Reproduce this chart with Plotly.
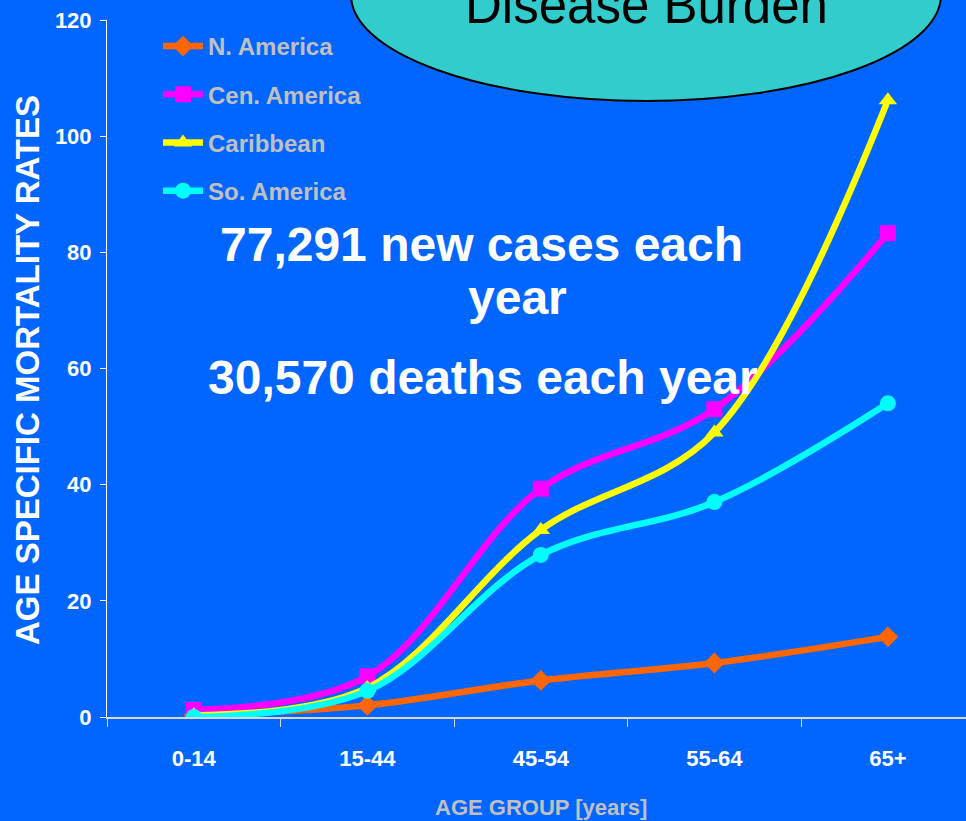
import plotly.graph_objects as go

W, H = 966, 821
L, R, T, B = 107, 0, 20, 104  # plot area in pixels

age_groups = ["0-14", "15-44", "45-54", "55-64", "65+"]
n_america = [0.3, 2.0, 6.3, 9.3, 13.8]
cen_america = [1.2, 7.0, 39.3, 53.0, 83.3]
caribbean = [0.3, 5.0, 32.2, 49.0, 106.2]
so_america = [0.0, 4.5, 27.9, 37.0, 54.0]

series = [
    ("N. America", n_america, "#FF6600", "diamond"),
    ("Cen. America", cen_america, "#FF00FF", "square"),
    ("Caribbean", caribbean, "#FFFF00", "triangle-up"),
    ("So. America", so_america, "#00FFFF", "circle"),
]

BG = "#0066FF"
SANS = "Liberation Sans, Arial"


def px_x(x):
    return (x - L) / (W - L - R)


def px_y(y):
    return (H - B - y) / (H - T - B)


fig = go.Figure()
for name, vals, color, symbol in series:
    fig.add_trace(go.Scatter(
        x=age_groups, y=vals, name=name, legendgroup=name,
        mode="lines+markers",
        line=dict(color=color, width=6.5, shape="spline", smoothing=1.0),
        marker=dict(color=color, symbol=symbol, size=16, line=dict(width=0)),
    ))

fig.add_shape(type="circle", xref="paper", yref="paper",
              x0=px_x(351), x1=px_x(941), y0=px_y(101), y1=px_y(-111),
              fillcolor="#33CCCC", line=dict(color="black", width=2), layer="above")

annotations = [
    dict(text="Disease Burden", x=px_x(646), y=px_y(5), font=dict(family=SANS, size=51, color="black")),
    dict(text="<b>77,291 new cases each</b>", x=px_x(481), y=px_y(245), font=dict(family=SANS, size=48, color="white")),
    dict(text="<b>year</b>", x=px_x(517), y=px_y(297), font=dict(family=SANS, size=48, color="white")),
    dict(text="<b>30,570 deaths each year</b>", x=px_x(483), y=px_y(377), font=dict(family=SANS, size=48, color="white")),
    dict(text="<b>AGE GROUP [years]</b>", x=px_x(541), y=px_y(807), font=dict(family=SANS, size=22, color="#C0C0C0")),
    dict(text="<b>AGE SPECIFIC MORTALITY RATES</b>", x=px_x(27), y=px_y(370), textangle=-90,
         font=dict(family=SANS, size=33, color="white")),
]
for a in annotations:
    a.update(xref="paper", yref="paper", showarrow=False, xanchor="center", yanchor="middle")

fig.update_layout(
    width=W, height=H,
    margin=dict(l=L, r=R, t=T, b=B, pad=0),
    paper_bgcolor=BG, plot_bgcolor=BG,
    annotations=annotations,
    showlegend=True,
    legend=dict(x=px_x(158), y=px_y(24), xanchor="left", yanchor="top",
                bgcolor="rgba(0,0,0,0)",
                font=dict(family=SANS, size=24, color="#C0C0C0", weight="bold"),
                tracegroupgap=14, itemwidth=40),
    xaxis=dict(
        type="category", range=[-0.5, 4.45], showgrid=False, zeroline=False,
        showline=True, linecolor="#D8D8D8", linewidth=2,
        ticks="outside", tickson="boundaries", ticklen=8, tickcolor="#D8D8D8", tickwidth=1,
        tickfont=dict(family=SANS, size=22, color="white", weight="bold"),
        ticklabelstandoff=21,
    ),
    yaxis=dict(
        range=[0, 120], dtick=20, showgrid=False, zeroline=False,
        showline=True, linecolor="white", linewidth=1,
        ticks="outside", ticklen=6, tickcolor="white",
        tickfont=dict(family=SANS, size=22, color="white", weight="bold"),
        ticklabelstandoff=4,
    ),
)

fig.write_html("out.html", config={"displayModeBar": False},
               post_script="document.body.style.margin='0';")
